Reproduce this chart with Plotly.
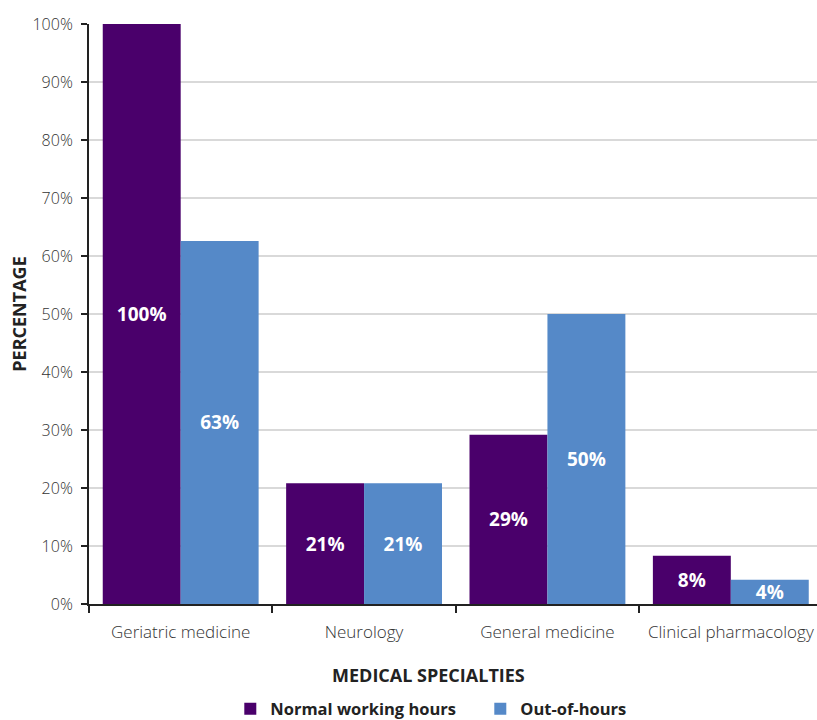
import plotly.graph_objects as go

# Share of respondents by specialty, for each time period
specialties = ["Geriatric medicine", "Neurology", "General medicine", "Clinical pharmacology"]
normal_hours = [100, 20.8, 29.2, 8.3]
out_of_hours = [62.6, 20.8, 50, 4.2]
y_ticks = [0, 10, 20, 30, 40, 50, 60, 70, 80, 90, 100]
y_tick_labels = [f"{v}%" for v in y_ticks]

PURPLE = "#4a006b"
BLUE = "#5589c8"
LABEL_FONT = dict(family="Open Sans", size=19, color="white", weight="bold")

fig = go.Figure()
for name, vals, color in [
    ("Normal working hours", normal_hours, PURPLE),
    ("Out-of-hours", out_of_hours, BLUE),
]:
    fig.add_trace(go.Bar(
        name=name,
        x=specialties,
        y=vals,
        marker=dict(color=color, line=dict(width=0)),
        text=[f"{v:.0f}%" for v in vals],
        textposition="inside",
        insidetextanchor="middle",
        textangle=0,
        textfont=LABEL_FONT,
        cliponaxis=False,
    ))

fig.update_layout(
    width=817,
    height=720,
    margin=dict(l=89, r=0, t=24, b=116, autoexpand=False),
    paper_bgcolor="white",
    plot_bgcolor="white",
    barmode="group",
    bargap=0.15,
    bargroupgap=0,
    font=dict(family="Open Sans", color="#333333"),
    showlegend=True,
    legend=dict(
        orientation="h",
        x=0.5375,
        xanchor="center",
        y=-0.181,
        yanchor="middle",
        font=dict(family="Open Sans", size=16.5, color="#222222", weight="bold"),
        itemwidth=30,
        entrywidth=205,
        traceorder="normal",
    ),
    uniformtext=dict(mode="show", minsize=19),
)

fig.update_xaxes(
    showline=True,
    linecolor="#222222",
    linewidth=2,
    ticks="outside",
    tickson="boundaries",
    ticklen=7,
    tickwidth=2,
    tickcolor="#222222",
    tickfont=dict(family="Open Sans", size=17, color="#333333", weight=300),
    ticklabelstandoff=12,
    showgrid=False,
    range=[-0.5, 3.47],
)

fig.update_yaxes(
    range=[0, 100],
    tickvals=y_ticks,
    ticktext=y_tick_labels,
    showline=True,
    linecolor="#222222",
    linewidth=2,
    ticks="outside",
    ticklen=6,
    tickwidth=2,
    tickcolor="#222222",
    tickfont=dict(family="Open Sans", size=16, color="#333333", weight=300),
    ticklabelstandoff=5,
    showgrid=True,
    gridcolor="#d9d9d9",
    gridwidth=2,
    zeroline=False,
    title=dict(
        text="PERCENTAGE",
        font=dict(family="Open Sans", size=18, color="#222222", weight="bold"),
        standoff=1,
    ),
)

fig.add_annotation(
    text="MEDICAL SPECIALTIES",
    xref="paper",
    yref="paper",
    x=0.467,
    y=-0.122,
    xanchor="center",
    yanchor="middle",
    showarrow=False,
    font=dict(family="Open Sans", size=18, color="#222222", weight="bold"),
)

fig.write_html("out.html")
